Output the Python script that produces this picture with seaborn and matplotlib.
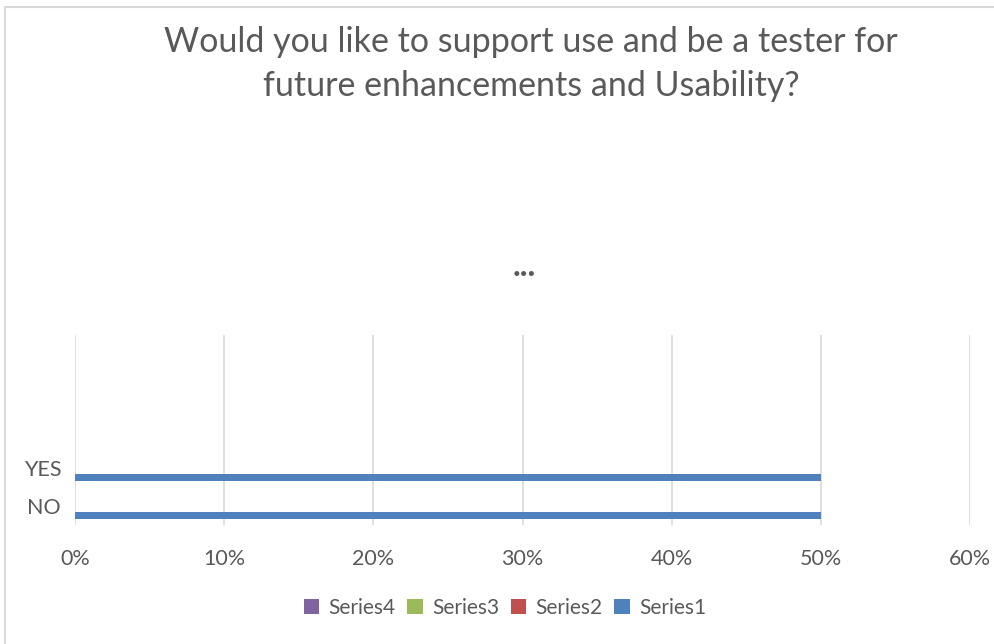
import matplotlib
matplotlib.use("Agg")
import matplotlib.pyplot as plt
import matplotlib.patches as mpatches
import seaborn as sns
import pandas as pd
from matplotlib.ticker import PercentFormatter, MultipleLocator

categories = ["YES", "NO"]
series_names = ["Series4", "Series3", "Series2", "Series1"]
series1 = [0.50, 0.50]
series2 = [0.0, 0.0]
series3 = [0.0, 0.0]
series4 = [0.0, 0.0]
colors = {"Series1": "#4F81BD", "Series2": "#C0504D", "Series3": "#9BBB59", "Series4": "#8064A2"}
title = "Would you like to support use and be a tester for\nfuture enhancements and Usability?"

rows = []
for name, vals in zip(["Series1", "Series2", "Series3", "Series4"], [series1, series2, series3, series4]):
    for c, v in zip(categories, vals):
        rows.append({"Category": c, "Series": name, "Value": v})
df = pd.DataFrame(rows)

sns.set_theme(style="white")
plt.rcParams["font.family"] = ["Lato", "DejaVu Sans"]
TXT = "#595959"

fig = plt.figure(figsize=(9.95, 6.44), dpi=100)
ax = fig.add_axes([75/995, 119/644, (970-75)/995, (525-335)/644])

sns.barplot(data=df, y="Category", x="Value", hue="Series", order=categories,
            hue_order=series_names, palette=colors, orient="h", width=0.68,
            linewidth=0, saturation=1, ax=ax)

ax.set_xlim(0, 0.6)
ax.set_ylim(1.5, -3.5)
ax.xaxis.set_major_locator(MultipleLocator(0.1))
ax.xaxis.set_major_formatter(PercentFormatter(1.0, decimals=0))
ax.grid(axis="x", color="#D9D9D9", linewidth=1.2)
ax.set_axisbelow(True)
for s in ax.spines.values():
    s.set_visible(False)
ax.set_xlabel("")
ax.set_ylabel("")
ax.tick_params(axis="x", length=0, pad=17, labelsize=15.5, labelcolor=TXT)
ax.tick_params(axis="y", length=0, pad=10, labelsize=15.5, labelcolor=TXT)

handles, labels = ax.get_legend_handles_labels()
ax.legend(handles, labels, loc="center", bbox_to_anchor=(505/995, (644-608)/644),
          bbox_transform=fig.transFigure, ncol=4, frameon=False, fontsize=15,
          labelcolor=TXT, handlelength=0.75, handleheight=0.75, handletextpad=0.45,
          columnspacing=0.55)

fig.text(531/995, 1 - 64/644, title, ha="center", va="center", fontsize=24.5,
         color=TXT, linespacing=1.5)
fig.text(524/995, 1 - 266/644, "...", ha="center", va="center", fontsize=24,
         color=TXT, fontweight="bold")

border = mpatches.Rectangle((5/995, -0.05), 1.2, 1 - 7/644 + 0.05, transform=fig.transFigure,
                            fill=False, edgecolor="#D9D9D9", linewidth=1.5)
fig.patches.append(border)

fig.savefig("out.png", dpi=100)
